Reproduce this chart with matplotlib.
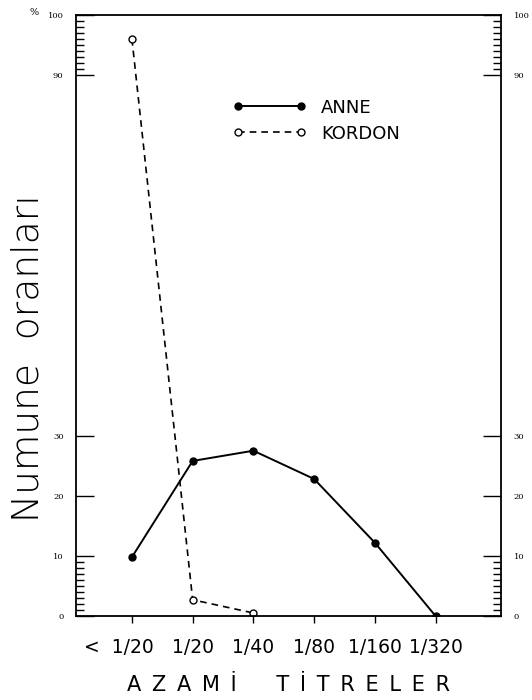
import numpy as np
import matplotlib.pyplot as plt
from matplotlib.transforms import ScaledTranslation

# Data
categories = ["<  1/20", "1/20", "1/40", "1/80", "1/160", "1/320"]
anne = [9.8, 25.8, 27.5, 22.8, 12.2, 0.0]
kordon = [96.0, 2.7, 0.5]
ytick_vals = [0, 10, 20, 30, 90, 100]
ytick_labels = ["0", "10", "20", "30", "90", "100"]

fig = plt.figure(figsize=(5.32, 7.00), dpi=100)
ax = fig.add_axes([0.143, 0.12, 0.799, 0.8586])

x = np.arange(len(categories))
ax.plot(x, anne, color="black", lw=1.4, marker="o", ms=5,
        mfc="black", mec="black", label="ANNE")
ax.plot(x[:len(kordon)], kordon, color="black", lw=1.2, ls=(0, (4, 3)),
        marker="o", ms=5, mfc="white", mec="black", mew=1.0, label="KORDON")

ax.set_xlim(-0.92, 6.08)
ax.set_ylim(0, 100)

for s in ax.spines.values():
    s.set_linewidth(1.3)

# x ticks
ax.set_xticks(x)
ax.set_xticklabels(categories, fontsize=13.5)
ax.tick_params(axis="x", direction="out", length=5, width=1, pad=11)
# "<" hangs to the left of the first label
first = ax.get_xticklabels()[0]
first.set_transform(first.get_transform() +
                    ScaledTranslation(-0.13, 0, fig.dpi_scale_trans))

# y ticks on both sides, inward
ax.set_yticks(ytick_vals)
ax.set_yticklabels(ytick_labels, fontsize=6, family="DejaVu Serif")
ax.set_yticks(list(range(1, 10)) + list(range(91, 100)), minor=True)
ax.tick_params(axis="y", which="major", direction="in", length=13, width=1,
               left=True, right=True, labelleft=True, labelright=True, pad=9)
ax.tick_params(axis="y", which="minor", direction="in", length=6, width=1,
               left=True, right=True)

fig.text(0.055, 0.982, "%", fontsize=7, family="DejaVu Serif", va="center")

fig.text(0.052, 0.488, "Numune  oranları", fontsize=27, fontweight="light",
         rotation=90, ha="center", va="center")
xlab = " \u2009".join("AZAMİ") + "      " + " \u2009".join("TİTRELER")
ax.set_xlabel(xlab, fontsize=15, labelpad=13)

ax.legend(loc="upper left", bbox_to_anchor=(0.33, 0.888), frameon=False,
          numpoints=2, handlelength=4.1, fontsize=13, labelspacing=0.45,
          handletextpad=0.8)

fig.savefig("out.png", dpi=100)
